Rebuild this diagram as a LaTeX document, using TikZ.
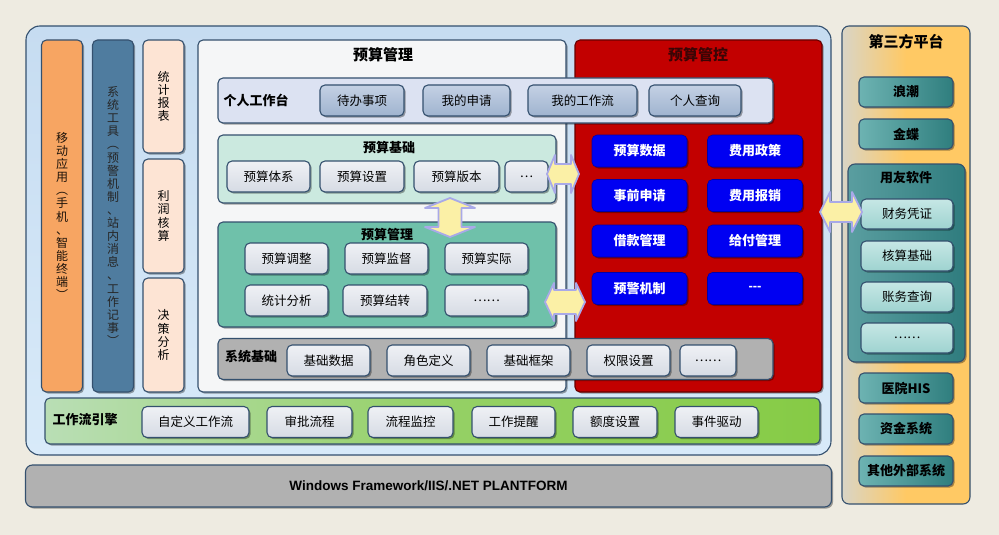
\documentclass[tikz,border=0pt]{standalone}
\usepackage{fontspec}
\setmainfont{Noto Sans CJK SC}
\newfontfamily\latinsans{Liberation Sans}
\usetikzlibrary{shadows}
\definecolor{bgc}{HTML}{EEEBE1}
\definecolor{outerblue}{HTML}{C6DCF1}
\definecolor{outerblue2}{HTML}{D8EAF9}
\definecolor{edge}{HTML}{34506E}
\definecolor{orangec}{HTML}{F7A562}
\definecolor{steel}{HTML}{4F7C9F}
\definecolor{peach}{HTML}{FDE4D4}
\definecolor{panelw}{HTML}{F5F6F7}
\definecolor{redc}{HTML}{C20000}
\definecolor{redtitle}{HTML}{3A0505}
\definecolor{lav}{HTML}{DCE2F2}
\definecolor{pbtnA}{HTML}{C4D1E4}
\definecolor{pbtnB}{HTML}{9FB3CF}
\definecolor{lbtnA}{HTML}{EFF1F5}
\definecolor{lbtnB}{HTML}{D6DBE4}
\definecolor{mint}{HTML}{CBE9DF}
\definecolor{tealc}{HTML}{6FC1AA}
\definecolor{graybar}{HTML}{B1B1B1}
\definecolor{bluebtn}{HTML}{0000F2}
\definecolor{greenA}{HTML}{B9DEB5}
\definecolor{greenB}{HTML}{86CB45}
\definecolor{tpA}{HTML}{D9D5C6}
\definecolor{tpB}{HTML}{FFC964}
\definecolor{tbtnA}{HTML}{6DB3B2}
\definecolor{tbtnB}{HTML}{2F7E7E}
\definecolor{yyA}{HTML}{5A9EA0}
\definecolor{yyB}{HTML}{2F7C7E}
\definecolor{ibtnA}{HTML}{C6E7E5}
\definecolor{ibtnB}{HTML}{9ED3D0}
\definecolor{arrfill}{HTML}{FBF0A6}
\definecolor{arredge}{HTML}{A9A9E8}
\newcommand{\lblfont}{\fontsize{12.5}{14}\selectfont}
\newcommand{\bolfont}{\fontsize{13}{15}\selectfont\bfseries}
\newcommand{\ttlfont}{\fontsize{15}{17}\selectfont\bfseries}
\newcommand{\dblarrow}[7]{%
  \begin{scope}[shift={(#1,#2)},rotate=#7]
    \draw[arrsty] (-#3,0) -- (-#3+#6,-#4) -- (-#3+#6,-#5) -- (#3-#6,-#5) -- (#3-#6,-#4) -- (#3,0)
      -- (#3-#6,#4) -- (#3-#6,#5) -- (-#3+#6,#5) -- (-#3+#6,#4) -- cycle;
  \end{scope}}
\tikzset{
  box/.style={draw=edge, line width=1.1pt, rounded corners=5pt, inner sep=0pt},
  shad/.style={drop shadow={shadow xshift=1.6pt, shadow yshift=-1.6pt, opacity=0.35, fill=black}},
  pbtn/.style={box, shad, top color=pbtnA, bottom color=pbtnB, font=\lblfont, minimum height=31},
  lbtn/.style={box, shad, top color=lbtnA, bottom color=lbtnB, font=\lblfont, minimum height=31},
  bbtn/.style={rounded corners=5pt, fill=bluebtn, draw=bluebtn!70!black, line width=0.6pt, shad,
               text=white, font=\bolfont, minimum width=95, minimum height=32},
  tbtn/.style={box, shad, left color=tbtnA, right color=tbtnB, font=\bolfont, minimum width=94, minimum height=30},
  ibtn/.style={box, shad, top color=ibtnA, bottom color=ibtnB, font=\lblfont, minimum width=92, minimum height=30},
  vcol/.style={box, shad, align=center, minimum width=41, font=\fontsize{12}{13.1}\selectfont},
  arrsty/.style={fill=arrfill, draw=arredge, line width=1.8pt, line join=round},
}
\begin{document}
\begin{tikzpicture}[x=1pt,y=-1pt]
\useasboundingbox (0,0) rectangle (999,535);
\fill[bgc] (0,0) rectangle (999,535);
% outer blue panel
\node[box, rounded corners=14pt, top color=outerblue, bottom color=outerblue2, minimum width=805, minimum height=429] (outer) at (428.5,240.5) {};
% platform
\node[box, rounded corners=7pt, shad, fill=graybar, minimum width=806, minimum height=42,
      font=\latinsans\bfseries\fontsize{13.5}{15}\selectfont] (platform) at (428.5,486)
      {Windows Framework/IIS/.NET PLANTFORM};
% third party panel
\node[box, rounded corners=7pt, left color=tpA, right color=tpB, middle color=tpB, minimum width=128, minimum height=478] (third) at (906,265) {};
\node[font=\ttlfont] (thirdt) at (906,42) {第三方平台};
\node[tbtn] (langchao) at (906,92) {浪潮};
\node[tbtn] (jindie) at (906,134) {金蝶};
\node[box, shad, rounded corners=7pt, left color=yyA, right color=yyB, minimum width=117, minimum height=198] (yonyou) at (906.5,263) {};
\node[font=\bolfont] (yonyout) at (906,178) {用友软件};
\node[ibtn] (cwpz) at (907,214) {财务凭证};
\node[ibtn] (hsjc) at (907,256) {核算基础};
\node[ibtn] (zwcx) at (907,297) {账务查询};
\node[ibtn] (yydots) at (907,338) {……};
\node[tbtn] (his) at (906,388) {医院HIS};
\node[tbtn] (zjxt) at (906,429) {资金系统};
\node[tbtn] (qtxt) at (906,471) {其他外部系统};
% left columns
\node[vcol, fill=orangec, text=black!85!brown, minimum height=352] (mobile) at (62,216) {移\\动\\应\\用\\︵\\手\\机\\、\\智\\能\\终\\端\\︶};
\node[vcol, fill=steel, text=black!85, minimum height=352] (systool) at (113,216) {系\\统\\工\\具\\︵\\预\\警\\机\\制\\、\\站\\内\\消\\息\\、\\工\\作\\记\\事\\︶};
\node[vcol, fill=peach, minimum height=113] (tjbb) at (163.5,96.5) {统\\计\\报\\表};
\node[vcol, fill=peach, minimum height=114] (lrhs) at (163.5,216) {利\\润\\核\\算};
\node[vcol, fill=peach, minimum height=114] (jcfx) at (163.5,335) {决\\策\\分\\析};
% white budget management panel
\node[box, shad, fill=panelw, minimum width=368, minimum height=352] (bm) at (382,216) {};
\node[font=\ttlfont] (bmt) at (383,55) {预算管理};
% red panel
\node[box, shad, draw=black!60!red, fill=redc, minimum width=247, minimum height=352] (rp) at (698.5,216) {};
\node[font=\ttlfont, text=redtitle] (rpt) at (698,55) {预算管控};
% personal workspace
\node[box, shad, fill=lav, minimum width=555, minimum height=45] (pw) at (495.5,100.5) {};
\node[font=\bolfont] (pwt) at (256,100) {个人工作台};
\node[pbtn, minimum width=84] (dbsx) at (362,100.5) {待办事项};
\node[pbtn, minimum width=87] (wdsq) at (466.5,100.5) {我的申请};
\node[pbtn, minimum width=109] (wdgzl) at (582.5,100.5) {我的工作流};
\node[pbtn, minimum width=92] (grcx) at (695,100.5) {个人查询};
% budget base
\node[box, shad, fill=mint, minimum width=338, minimum height=68] (bb) at (387,169) {};
\node[font=\bolfont] (bbt) at (389,148) {预算基础};
\node[lbtn, minimum width=83] (ystx) at (268.5,176.5) {预算体系};
\node[lbtn, minimum width=84] (yssz) at (362,176.5) {预算设置};
\node[lbtn, minimum width=85] (ysbb) at (456.5,176.5) {预算版本};
\node[lbtn, minimum width=43] (bbdots) at (526.5,176.5) {…};
% budget management teal
\node[box, shad, fill=tealc, minimum width=338, minimum height=105] (bg) at (387,274.5) {};
\node[font=\bolfont] (bgt) at (387,235) {预算管理};
\node[lbtn, minimum width=83] (ystz) at (286.5,258.5) {预算调整};
\node[lbtn, minimum width=83] (ysjd) at (386.5,258.5) {预算监督};
\node[lbtn, minimum width=83] (yssj) at (486.5,258.5) {预算实际};
\node[lbtn, minimum width=83] (tjfx) at (286.5,300.5) {统计分析};
\node[lbtn, minimum width=84] (ysjz) at (385,300.5) {预算结转};
\node[lbtn, minimum width=83] (bgdots) at (486.5,300.5) {……};
% system base
\node[box, shad, fill=graybar, minimum width=555, minimum height=41] (sb) at (495.5,359) {};
\node[font=\bolfont] (sbt) at (251,357) {系统基础};
\node[lbtn, minimum width=83] (jcsj) at (328.5,360.5) {基础数据};
\node[lbtn, minimum width=83] (jsdy) at (428.5,360.5) {角色定义};
\node[lbtn, minimum width=83] (jckj) at (528.5,360.5) {基础框架};
\node[lbtn, minimum width=83] (qxsz) at (628.5,360.5) {权限设置};
\node[lbtn, minimum width=56] (sbdots) at (708,360.5) {……};
% red panel buttons
\node[bbtn] (yssjb) at (639.5,151) {预算数据};
\node[bbtn] (fyzc) at (755,151) {费用政策};
\node[bbtn] (sqsq) at (639.5,195.5) {事前申请};
\node[bbtn] (fybx) at (755,195.5) {费用报销};
\node[bbtn] (jkgl) at (639.5,241) {借款管理};
\node[bbtn] (gfgl) at (755,241) {给付管理};
\node[bbtn] (yjjz) at (639.5,288.5) {预警机制};
\node[bbtn, font=\latinsans\bfseries\fontsize{13}{15}\selectfont] (rpdots) at (755,288.5) {-{}-{}-};
% workflow engine
\node[box, shad, left color=greenA, right color=greenB, middle color=greenB!70!greenA, minimum width=775, minimum height=46] (wf) at (432.5,421) {};
\node[font=\bolfont] (wft) at (85,420) {工作流引擎};
\node[lbtn, minimum width=107] (zdygzl) at (195.5,422) {自定义工作流};
\node[lbtn, minimum width=85] (splc) at (309.5,422) {审批流程};
\node[lbtn, minimum width=85] (lcjk) at (410.5,422) {流程监控};
\node[lbtn, minimum width=83] (gztx) at (513.5,422) {工作提醒};
\node[lbtn, minimum width=84] (edsz) at (615,422) {额度设置};
\node[lbtn, minimum width=83] (sjqd) at (716.5,422) {事件驱动};
% block arrows
\dblarrow{450}{217.5}{19.5}{25}{11.5}{10}{90}
\dblarrow{563}{174}{16}{19}{10}{8}{0}
\dblarrow{565}{302}{20}{19}{12}{9}{0}
\dblarrow{841}{212}{21}{20}{10}{10}{0}
\end{tikzpicture}
\end{document}
